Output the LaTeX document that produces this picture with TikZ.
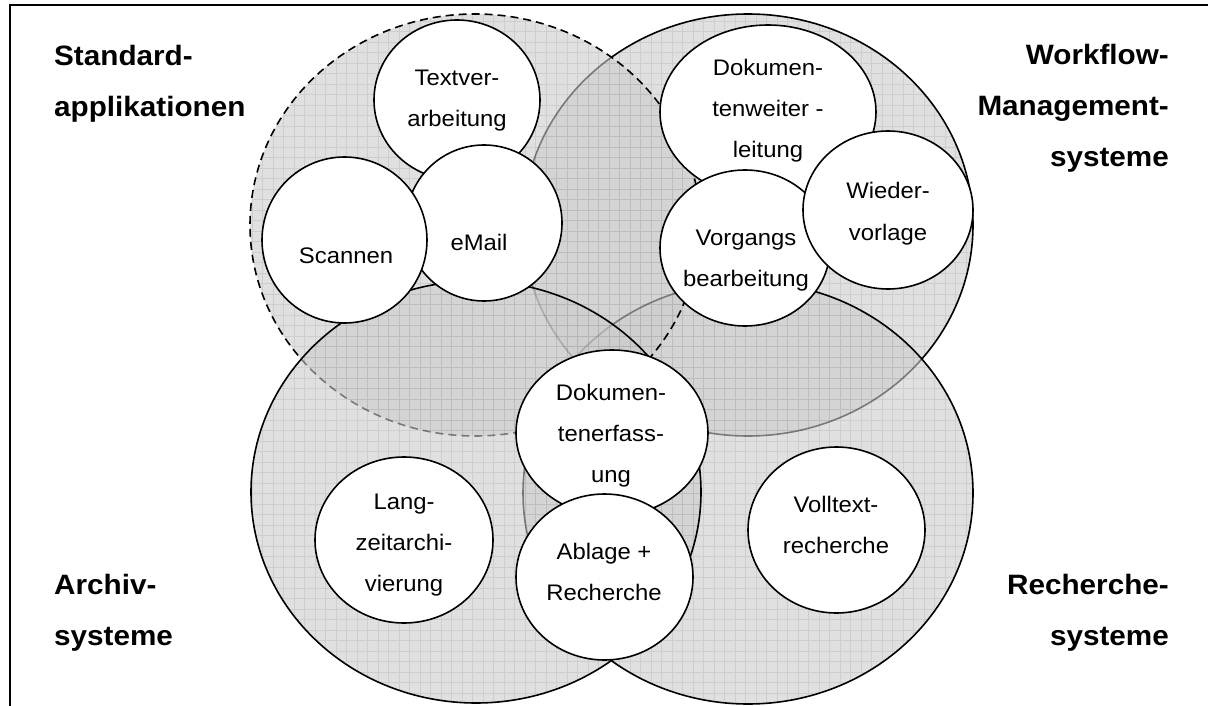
\documentclass[tikz,border=0pt]{standalone}
\usepackage{fontspec}
\setmainfont{Liberation Sans}[FakeStretch=1.06]
\usetikzlibrary{shapes.geometric}

% one shaded system area: translucent fill, fine grid, outline
\newcommand\systemarea[2]{%
  \fill[area] #1 ellipse [x radius=225pt, y radius=211pt];
  \begin{scope}
    \clip #1 ellipse [x radius=225pt, y radius=211pt];
    \draw[gridline] (230,0) grid (1000,720);
  \end{scope}
  \draw[rim,#2] #1 ellipse [x radius=225pt, y radius=211pt];
}

\begin{document}
\begin{tikzpicture}[x=1pt, y=-1pt,
  area/.style={fill=black!20, fill opacity=0.6},
  gridline/.style={black, opacity=0.08, line width=0.9pt, step=10.5pt},
  rim/.style={line width=1.6pt},
  frameline/.style={line width=2pt},
  item/.style={ellipse, draw, fill=white, line width=1.6pt, inner sep=0pt},
  % multi-line texts are placed by the baseline of their last line
  itemtext/.style={anchor=base, align=center, inner sep=0pt,
                   font=\fontsize{22.5}{41}\selectfont},
  systext/.style={inner sep=0pt, font=\bfseries\fontsize{28}{51}\selectfont},
]
\useasboundingbox (0,0) rectangle (1208,706);

% outer frame
\draw[frameline] (10,715) -- (10,5) -- (1215,5);

% the four systems
\systemarea{(748,225)}{solid}
\systemarea{(748,493)}{solid}
\systemarea{(475,225)}{dashed, dash pattern=on 8pt off 5pt}
\systemarea{(476,492)}{solid}

% functions
\node[item, minimum width=166pt, minimum height=160pt] (textver) at (457,100) {};
\node[item, minimum width=156pt, minimum height=156pt] (email) at (484,223) {};
\node[item, minimum width=165pt, minimum height=166pt] (scan) at (344.5,240) {};
\node[item, minimum width=216pt, minimum height=174pt] (dokwl) at (768,112) {};
\node[item, minimum width=170pt, minimum height=156pt] (vorg) at (745,248) {};
\node[item, minimum width=170pt, minimum height=158pt] (wied) at (888,210) {};
\node[item, minimum width=192pt, minimum height=166pt] (dokerf) at (612,433) {};
\node[item, minimum width=177pt, minimum height=166pt] (ablage) at (604.5,577) {};
\node[item, minimum width=178pt, minimum height=166pt] (langzeit) at (404,540) {};
\node[item, minimum width=177pt, minimum height=166pt] (volltext) at (836.5,530) {};

\node[itemtext] (textverT) at (457,127) {Textver-\\arbeitung};
\node[itemtext] (emailT) at (479,250) {eMail};
\node[itemtext] (scanT) at (346,263) {Scannen};
\node[itemtext] (dokwlT) at (768,158) {Dokumen-\\tenweiter -\\leitung};
\node[itemtext] (vorgT) at (746,286) {Vorgangs\\bearbeitung};
\node[itemtext] (wiedT) at (888,240) {Wieder-\\vorlage};
\node[itemtext] (dokerfT) at (611,482) {Dokumen-\\tenerfass-\\ung};
\node[itemtext] (ablageT) at (604,600) {Ablage +\\Recherche};
\node[itemtext] (langzeitT) at (404,591) {Lang-\\zeitarchi-\\vierung};
\node[itemtext] (volltextT) at (836,553) {Volltext-\\recherche};

% system names
\node[systext, anchor=base west, align=left] (std) at (54,117) {Standard-\\applikationen};
\node[systext, anchor=base east, align=right] (wfm) at (1169,167) {Workflow-\\Management-\\systeme};
\node[systext, anchor=base west, align=left] (arc) at (54,645) {Archiv-\\systeme};
\node[systext, anchor=base east, align=right] (rec) at (1169,645) {Recherche-\\systeme};
\end{tikzpicture}
\end{document}
